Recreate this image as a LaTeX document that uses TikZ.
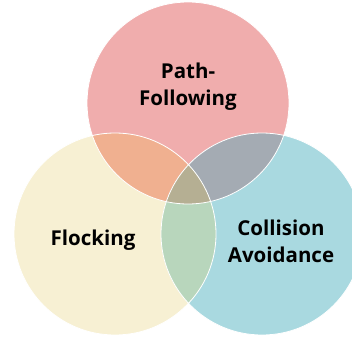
\documentclass[tikz,border=0pt]{standalone}
\usepackage{fontspec}
\setmainfont{Open Sans}
\begin{document}
\begin{tikzpicture}[x=1pt,y=-1pt,
  lbl/.style={font=\fontsize{20.5}{27}\selectfont\bfseries, text=black, align=center, inner sep=0pt},
  edge/.style={draw=white, line width=0.8pt}]
\definecolor{cpink}{HTML}{F0ADAD}
\definecolor{cyel}{HTML}{F7F0D3}
\definecolor{cblue}{HTML}{A9D9E0}
\definecolor{corange}{HTML}{F0B090}
\definecolor{cgray}{HTML}{A4ABB3}
\definecolor{cgreen}{HTML}{B8D6BC}
\definecolor{ccenter}{HTML}{B5AF93}
\useasboundingbox (0,0) rectangle (352,339);
\clip (0,0) rectangle (352,339);
\def\R{101}
\coordinate (T) at (188,103);
\coordinate (L) at (115,234);
\coordinate (B) at (262,234);
\fill[cpink] (T) circle (\R);
\fill[cyel] (L) circle (\R);
\fill[cblue] (B) circle (\R);
\begin{scope}\clip (T) circle (\R); \fill[corange] (L) circle (\R);\end{scope}
\begin{scope}\clip (T) circle (\R); \fill[cgray] (B) circle (\R);\end{scope}
\begin{scope}\clip (L) circle (\R); \fill[cgreen] (B) circle (\R);\end{scope}
\begin{scope}\clip (T) circle (\R); \clip (L) circle (\R); \fill[ccenter] (B) circle (\R);\end{scope}
\draw[edge] (T) circle (\R);
\draw[edge] (L) circle (\R);
\draw[edge] (B) circle (\R);
\node[lbl] (pf) at (188,87) {Path-\\Following};
\node[lbl] (fl) at (93,240) {Flocking};
\node[lbl] (ca) at (281,241) {Collision\\Avoidance};
\end{tikzpicture}
\end{document}
